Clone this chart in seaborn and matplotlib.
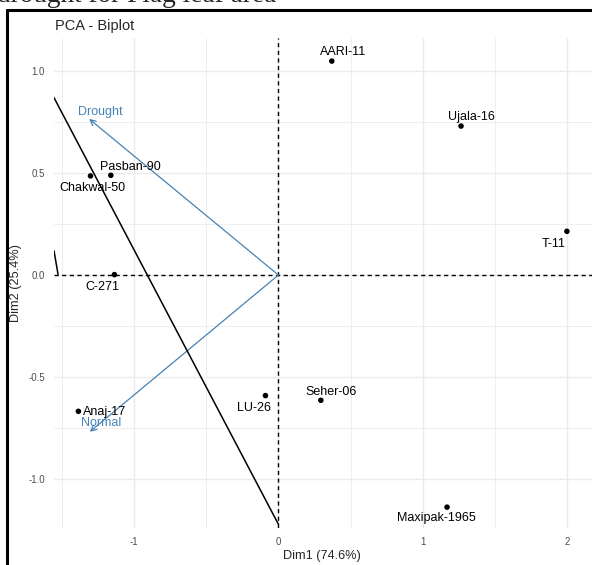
import matplotlib
matplotlib.use("Agg")
import matplotlib.pyplot as plt
from matplotlib.lines import Line2D
import seaborn as sns
import pandas as pd

# ---- data ----
genotypes = ["AARI-11", "Ujala-16", "T-11", "Pasban-90", "Chakwal-50",
             "C-271", "Anaj-17", "LU-26", "Seher-06", "Maxipak-1965"]
dim1 = [0.37, 1.266, 2.0, -1.162, -1.303, -1.137, -1.387, -0.09, 0.294, 1.169]
dim2 = [1.047, 0.729, 0.214, 0.488, 0.485, 0.002, -0.667, -0.59, -0.613, -1.136]

variables = ["Drought", "Normal"]
var_dim1 = [-1.3125, -1.308]
var_dim2 = [0.764, -0.767]

# extra black lines drawn on the chart (data coordinates)
line1_x = [-1.556, 0.0]
line1_y = [0.868, -1.22]
line2_x = [-1.556, -1.528]
line2_y = [0.119, 0.003]

x_ticks = [-1, 0, 1, 2]
y_ticks = [-1.0, -0.5, 0.0, 0.5, 1.0]

df = pd.DataFrame({"genotype": genotypes, "Dim1": dim1, "Dim2": dim2})

# ---- layout (label offsets in points) ----
label_offsets = {
    "AARI-11": (7.9, 6.5), "Ujala-16": (7.5, 6.7), "T-11": (-9.4, -9.4),
    "Pasban-90": (14, 6.2), "Chakwal-50": (1.7, -8.6), "C-271": (-8.4, -8.6),
    "Anaj-17": (19, -0.7), "LU-26": (-8.1, -9.1), "Seher-06": (7.7, 5.8),
    "Maxipak-1965": (-8, -8.1),
}
var_offsets = {"Drought": (8.1, 5.3), "Normal": (8.1, 6.3)}

sns.set_theme(style="white")
plt.rcParams["font.family"] = ["Liberation Sans", "DejaVu Sans"]

W, H = 592, 565
fig = plt.figure(figsize=(W / 100, H / 100), dpi=100)
ax = fig.add_axes([54 / W, 1 - 528 / H, (592 - 54) / W, (528 - 38) / H])

ax.set_xlim(-1.556, 2.174)
ax.set_ylim(-1.238, 1.160)

# grid
for v in [-1.5, -0.5, 0.5, 1.5]:
    ax.axvline(v, color="#EBEBEB", lw=0.6, zorder=0)
for v in x_ticks:
    ax.axvline(v, color="#EBEBEB", lw=1.0, zorder=0)
for v in [-0.75, -0.25, 0.25, 0.75]:
    ax.axhline(v, color="#EBEBEB", lw=0.6, zorder=0)
for v in y_ticks:
    ax.axhline(v, color="#EBEBEB", lw=1.0, zorder=0)

# reference lines
ax.axhline(0, color="black", lw=1.0, ls=(0, (3, 2.5)), zorder=1)
ax.axvline(0, color="black", lw=1.0, ls=(0, (3, 2.5)), zorder=1)

# points
sns.scatterplot(data=df, x="Dim1", y="Dim2", ax=ax, color="black", s=16,
                edgecolor="none", zorder=3, legend=False)
for g, x, y in zip(genotypes, dim1, dim2):
    ax.annotate(g, (x, y), xytext=label_offsets[g], textcoords="offset points",
                ha="center", va="center", fontsize=9, color="black", zorder=4)

# variable arrows
for v, x, y in zip(variables, var_dim1, var_dim2):
    ax.annotate("", xy=(x, y), xytext=(0, 0),
                arrowprops=dict(arrowstyle="->", color="#4682B4", lw=0.9,
                                mutation_scale=10, shrinkA=0, shrinkB=0),
                zorder=2)
    ax.annotate(v, (x, y), xytext=var_offsets[v], textcoords="offset points",
                ha="center", va="center", fontsize=9, color="#4682B4", zorder=4)

# extra black lines
ax.plot(line1_x, line1_y, color="black", lw=1.1, zorder=2)
ax.plot(line2_x, line2_y, color="black", lw=1.1, zorder=2)

for s in ax.spines.values():
    s.set_visible(False)
ax.set_xticks(x_ticks)
ax.set_xticklabels([str(t) for t in x_ticks])
ax.set_yticks(y_ticks)
ax.set_yticklabels([f"{t:.1f}" for t in y_ticks])
ax.tick_params(axis="both", length=3, width=0.8, color="#333333",
               labelcolor="#4D4D4D", labelsize=7, pad=3.5)
ax.set_xlabel("")
ax.set_ylabel("")

fig.text(322 / W, 1 - 556 / H, "Dim1 (74.6%)", ha="center", va="center", fontsize=9.2)
fig.text(16 / W, 1 - 283 / H, "Dim2 (25.4%)", ha="center", va="center",
         rotation=90, fontsize=9.2)
fig.text(55 / W, 1 - 26 / H, "PCA - Biplot", ha="left", va="center", fontsize=10.5)

# outer frame and cut-off caption
fig.add_artist(Line2D([6.5 / W, 6.5 / W], [0, 1 - 10 / H], color="black", lw=2.2))
fig.add_artist(Line2D([6.5 / W, 1], [1 - 10 / H, 1 - 10 / H], color="black", lw=2.2))
fig.text(-3 / W, 1 - 2 / H, "drought for Flag leaf area", ha="left", va="baseline",
         fontsize=19.6, family=["Liberation Serif", "DejaVu Serif"])

fig.savefig("out.png", dpi=100)
